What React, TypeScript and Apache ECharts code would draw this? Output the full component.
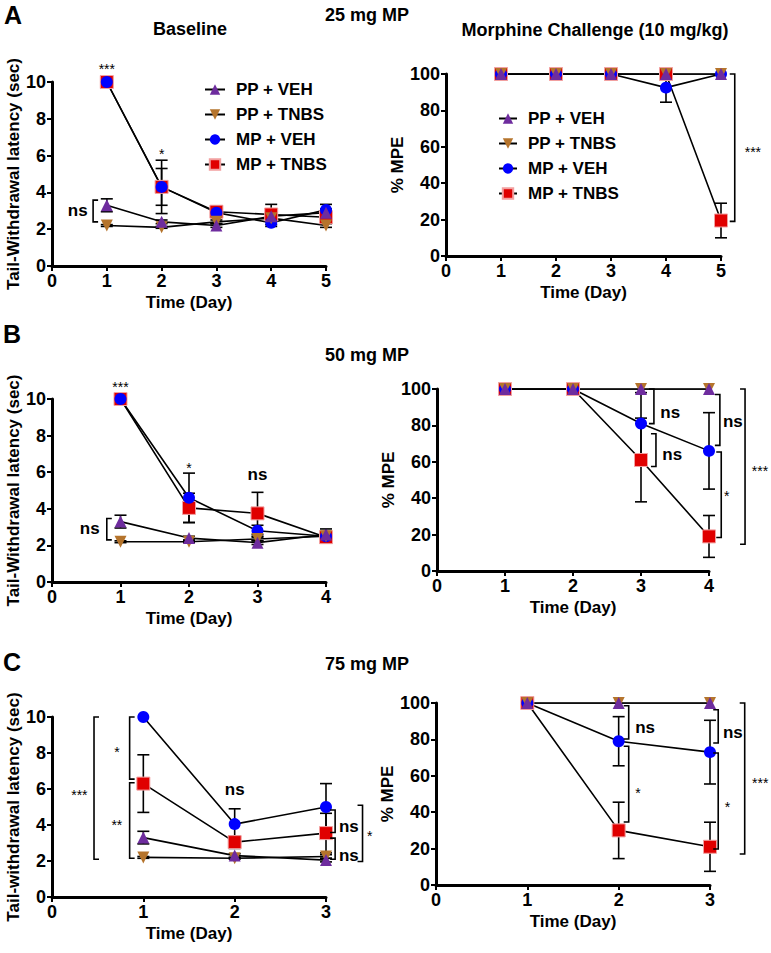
import React, { useEffect, useRef } from 'react';
import * as echarts from 'echarts';

const FONT = 'Arial, "Liberation Sans", Helvetica, sans-serif';
const NAMES = ['PP + VEH', 'PP + TNBS', 'MP + VEH', 'MP + TNBS'];

// ---------- Panel A: 25 mg MP ----------
const aDays = [1, 2, 3, 4, 5];
const aBasePPVEH = [3.3, 2.4, 2.2, 2.7, 2.9];
const aBasePPVEHErr = [0.35, 0.1, 0.1, 0.2, 0.2];
const aBasePPTNBS = [2.2, 2.1, 2.4, 2.6, 2.2];
const aBasePPTNBSErr = [0.05, 0.05, 0.1, 0.1, 0.1];
const aBaseMPVEH = [10, 4.3, 2.9, 2.35, 3.05];
const aBaseMPVEHErr = [0, 1.45, 0.25, 0.2, 0.3];
const aBaseMPTNBS = [10, 4.3, 2.95, 2.8, 2.65];
const aBaseMPTNBSErr = [0, 1.0, 0.3, 0.55, 0.2];
const aBaseBrackets = [[0.75, 3.58, 2.4, 1]];
const aBaseLabels: [number, number, string][] = [[1, 10.95, '***'], [2, 6.3, '*'], [0.47, 3.0, 'ns']];

const aChalPPVEH = [100, 100, 100, 100, 100];
const aChalPPTNBS = [100, 100, 100, 100, 100];
const aChalMPVEH = [100, 100, 100, 92.5, 100];
const aChalMPVEHErr = [0, 0, 0, 8, 0];
const aChalMPTNBS = [100, 100, 100, 100, 19.5];
const aChalMPTNBSErr = [0, 0, 0, 0, 9.5];
const aChalBrackets = [[5.25, 100, 19, -1]];
const aChalLabels: [number, number, string][] = [[5.58, 59.5, '***']];

// ---------- Panel B: 50 mg MP ----------
const bDays = [1, 2, 3, 4];
const bBasePPVEH = [3.3, 2.4, 2.15, 2.6];
const bBasePPVEHErr = [0.35, 0.1, 0.1, 0.3];
const bBasePPTNBS = [2.2, 2.2, 2.35, 2.5];
const bBasePPTNBSErr = [0.05, 0.05, 0.1, 0.1];
const bBaseMPVEH = [10, 4.6, 2.8, 2.5];
const bBaseMPVEHErr = [0, 1.35, 0.3, 0.2];
const bBaseMPTNBS = [10, 4.05, 3.75, 2.45];
const bBaseMPTNBSErr = [0, 0.8, 1.15, 0.3];
const bBaseBrackets = [[0.8, 3.47, 2.3, 1]];
const bBaseLabels: [number, number, string][] = [[1, 10.9, '***'], [2, 6.45, '*'], [3, 5.85, 'ns'], [0.55, 2.93, 'ns']];

const bChalPPVEH = [100, 100, 100, 100];
const bChalPPTNBS = [100, 100, 100, 100];
const bChalMPVEH = [100, 100, 81, 66];
const bChalMPVEHErr = [0, 0, 17, 21];
const bChalMPTNBS = [100, 100, 61, 19];
const bChalMPTNBSErr = [0, 0, 23, 11.5];
const bChalBrackets = [
  [3.19, 100, 81, -1],
  [3.22, 75.4, 57.4, -1],
  [4.16, 97, 69, -1],
  [4.18, 65.4, 18.4, -1],
  [4.53, 100, 14.7, -1],
];
const bChalLabels: [number, number, string][] = [
  [3.43, 87, 'ns'], [3.46, 63.8, 'ns'], [4.35, 82, 'ns'], [4.26, 43.4, '*'], [4.75, 57, '***'],
];

// ---------- Panel C: 75 mg MP ----------
const cDays = [1, 2, 3];
const cBasePPVEH = [3.3, 2.3, 2.05];
const cBasePPVEHErr = [0.35, 0.1, 0.1];
const cBasePPTNBS = [2.2, 2.15, 2.25];
const cBasePPTNBSErr = [0.05, 0.05, 0.1];
const cBaseMPVEH = [10, 4.05, 5.0];
const cBaseMPVEHErr = [0, 0.85, 1.3];
const cBaseMPTNBS = [6.3, 3.05, 3.55];
const cBaseMPTNBSErr = [1.6, 0.35, 1.1];
const cBaseBrackets = [
  [0.46, 10, 2.1, 1],
  [0.85, 10, 6.55, 1],
  [0.85, 6.35, 2.15, 1],
  [3.1, 4.83, 3.58, -1],
  [3.1, 3.27, 2.1, -1],
  [3.4, 5.1, 1.97, -1],
];
const cBaseLabels: [number, number, string][] = [
  [0.3, 5.9, '***'], [0.71, 8.3, '*'], [0.71, 4.25, '**'], [2, 5.95, 'ns'],
  [3.25, 3.9, 'ns'], [3.25, 2.33, 'ns'], [3.48, 3.6, '*'],
];

const cChalPPVEH = [100, 100, 100];
const cChalPPTNBS = [100, 100, 100];
const cChalMPVEH = [100, 79, 73];
const cChalMPVEHErr = [0, 13.5, 17.5];
const cChalMPTNBS = [100, 30, 21];
const cChalMPTNBSErr = [0, 15.5, 13.5];
const cChalBrackets = [
  [2.11, 98.5, 80.2, -1],
  [2.11, 76.2, 34.6, -1],
  [3.09, 96.3, 78, -1],
  [3.09, 72.5, 19.8, -1],
  [3.38, 100, 17, -1],
];
const cChalLabels: [number, number, string][] = [
  [2.29, 86.8, 'ns'], [2.21, 53, '*'], [3.25, 84, 'ns'], [3.19, 45, '*'], [3.55, 58, '***'],
];

const zeros = (n: number) => new Array(n).fill(0);

type Panel = {
  grid: { left: number; top: number; width: number; height: number };
  days: number[];
  yMax: number;
  yInterval: number;
  yName: string;
  yNameGap: number;
  means: number[][];
  errs: number[][];
  brackets: number[][];
  labels: [number, number, string][];
};

const WD_NAME = 'Tail-Withdrawal latency (sec)';
const panels: Panel[] = [
  {
    grid: { left: 52, top: 82, width: 274, height: 184 }, days: aDays, yMax: 10, yInterval: 2,
    yName: WD_NAME, yNameGap: 30,
    means: [aBasePPVEH, aBasePPTNBS, aBaseMPVEH, aBaseMPTNBS],
    errs: [aBasePPVEHErr, aBasePPTNBSErr, aBaseMPVEHErr, aBaseMPTNBSErr],
    brackets: aBaseBrackets, labels: aBaseLabels,
  },
  {
    grid: { left: 446, top: 74, width: 275, height: 182 }, days: aDays, yMax: 100, yInterval: 20,
    yName: '% MPE', yNameGap: 39,
    means: [aChalPPVEH, aChalPPTNBS, aChalMPVEH, aChalMPTNBS],
    errs: [zeros(5), zeros(5), aChalMPVEHErr, aChalMPTNBSErr],
    brackets: aChalBrackets, labels: aChalLabels,
  },
  {
    grid: { left: 52, top: 399, width: 274, height: 183 }, days: bDays, yMax: 10, yInterval: 2,
    yName: WD_NAME, yNameGap: 30,
    means: [bBasePPVEH, bBasePPTNBS, bBaseMPVEH, bBaseMPTNBS],
    errs: [bBasePPVEHErr, bBasePPTNBSErr, bBaseMPVEHErr, bBaseMPTNBSErr],
    brackets: bBaseBrackets, labels: bBaseLabels,
  },
  {
    grid: { left: 437, top: 389, width: 272, height: 182 }, days: bDays, yMax: 100, yInterval: 20,
    yName: '% MPE', yNameGap: 39,
    means: [bChalPPVEH, bChalPPTNBS, bChalMPVEH, bChalMPTNBS],
    errs: [zeros(4), zeros(4), bChalMPVEHErr, bChalMPTNBSErr],
    brackets: bChalBrackets, labels: bChalLabels,
  },
  {
    grid: { left: 52, top: 717, width: 274, height: 180 }, days: cDays, yMax: 10, yInterval: 2,
    yName: 'Tail-withdrawal latency (sec)', yNameGap: 30,
    means: [cBasePPVEH, cBasePPTNBS, cBaseMPVEH, cBaseMPTNBS],
    errs: [cBasePPVEHErr, cBasePPTNBSErr, cBaseMPVEHErr, cBaseMPTNBSErr],
    brackets: cBaseBrackets, labels: cBaseLabels,
  },
  {
    grid: { left: 436, top: 703, width: 274, height: 182 }, days: cDays, yMax: 100, yInterval: 20,
    yName: '% MPE', yNameGap: 39,
    means: [cChalPPVEH, cChalPPTNBS, cChalMPVEH, cChalMPTNBS],
    errs: [zeros(3), zeros(3), cChalMPVEHErr, cChalMPTNBSErr],
    brackets: cChalBrackets, labels: cChalLabels,
  },
];

const SYMBOLS = [
  { symbol: 'triangle', symbolSize: 12, symbolRotate: 0, itemStyle: { color: '#6E2C9E' } },
  { symbol: 'triangle', symbolSize: 12, symbolRotate: 180, itemStyle: { color: '#B5742C' } },
  { symbol: 'circle', symbolSize: 12, symbolRotate: 0, itemStyle: { color: '#0000FF' } },
  { symbol: 'rect', symbolSize: 13, symbolRotate: 0, itemStyle: { color: '#E00000', borderColor: '#F2A0A0', borderWidth: 1 } },
];

function buildOption() {
  const grid: any[] = [];
  const xAxis: any[] = [];
  const yAxis: any[] = [];
  const series: any[] = [];
  const axisLabel = { fontFamily: FONT, fontWeight: 'bold', fontSize: 18, color: '#000', margin: 6 };
  const nameStyle = { fontFamily: FONT, fontWeight: 'bold', fontSize: 17, color: '#000' };
  const axisLine = { show: true, onZero: false, lineStyle: { color: '#000', width: 3 } };
  const axisTick = { show: true, length: 5, lineStyle: { color: '#000', width: 2 } };

  panels.forEach((p, i) => {
    grid.push({ ...p.grid });
    xAxis.push({
      type: 'value', gridIndex: i, min: 0, max: p.days.length, interval: 1,
      name: 'Time (Day)', nameLocation: 'middle', nameGap: 28, nameTextStyle: nameStyle,
      axisLine, axisTick, axisLabel, splitLine: { show: false },
    });
    yAxis.push({
      type: 'value', gridIndex: i, min: 0, max: p.yMax, interval: p.yInterval,
      name: p.yName, nameLocation: 'middle', nameGap: p.yNameGap, nameTextStyle: nameStyle,
      axisLine, axisTick, axisLabel, splitLine: { show: false },
    });

    // error bars (drawn beneath markers)
    const errRows: number[][] = [];
    p.means.forEach((m, k) => {
      m.forEach((v, j) => {
        const e = p.errs[k][j];
        if (e > 0) errRows.push([p.days[j], v - e, v + e]);
      });
    });
    series.push({
      type: 'custom', xAxisIndex: i, yAxisIndex: i, data: errRows, z: 1, silent: true, clip: false,
      renderItem: (_params: any, api: any) => {
        const x = api.value(0);
        const lo = api.coord([x, api.value(1)]);
        const hi = api.coord([x, api.value(2)]);
        const st = { stroke: '#000', lineWidth: 1.6 };
        const cap = 6;
        return {
          type: 'group',
          children: [
            { type: 'line', shape: { x1: lo[0], y1: lo[1], x2: hi[0], y2: hi[1] }, style: st },
            { type: 'line', shape: { x1: hi[0] - cap, y1: hi[1], x2: hi[0] + cap, y2: hi[1] }, style: st },
            { type: 'line', shape: { x1: lo[0] - cap, y1: lo[1], x2: lo[0] + cap, y2: lo[1] }, style: st },
          ],
        };
      },
    });

    // line series: draw MP+TNBS first, PP+VEH last (on top)
    [3, 2, 1, 0].forEach((k) => {
      series.push({
        type: 'line', name: NAMES[k], xAxisIndex: i, yAxisIndex: i,
        data: p.days.map((d, j) => [d, p.means[k][j]]),
        ...SYMBOLS[k],
        showSymbol: true,
        lineStyle: { color: '#000', width: 1.6 },
        z: 3,
        emphasis: { disabled: true },
      });
    });

    // brackets
    series.push({
      type: 'custom', xAxisIndex: i, yAxisIndex: i, data: p.brackets, z: 4, silent: true, clip: false,
      renderItem: (_params: any, api: any) => {
        const x = api.value(0);
        const a = api.coord([x, api.value(1)]);
        const b = api.coord([x, api.value(2)]);
        const dir = api.value(3);
        const t = 5;
        return {
          type: 'polyline',
          shape: { points: [[a[0] + dir * t, a[1]], a, b, [b[0] + dir * t, b[1]]] },
          style: { stroke: '#000', lineWidth: 1.6, fill: 'none' },
        };
      },
    });

    // significance labels
    series.push({
      type: 'custom', xAxisIndex: i, yAxisIndex: i,
      data: p.labels.map((l) => [l[0], l[1]]), z: 5, silent: true, clip: false,
      renderItem: (params: any, api: any) => {
        const pt = api.coord([api.value(0), api.value(1)]);
        const txt = p.labels[params.dataIndex][2];
        const star = txt.indexOf('*') >= 0;
        return {
          type: 'text', x: pt[0], y: pt[1] + (star ? 4 : 0),
          style: {
            text: txt, fill: '#000', fontFamily: FONT,
            fontSize: star ? 14 : 17, fontWeight: star ? 'normal' : 'bold',
            align: 'center', verticalAlign: 'middle',
          },
        };
      },
    });
  });

  const legendBase = {
    data: NAMES, orient: 'vertical', itemHeight: 13, itemGap: 8,
    selectedMode: false,
    textStyle: { fontFamily: FONT, fontWeight: 'bold', fontSize: 17, color: '#000', padding: [0, 0, 0, 6] },
  };

  const titleText = (x: number, y: number, text: string, size: number, align = 'center') => ({
    type: 'text', x, y,
    style: { text, fill: '#000', fontFamily: FONT, fontWeight: 'bold', fontSize: size, align, verticalAlign: 'middle' },
  });

  return {
    animation: false,
    backgroundColor: '#fff',
    grid, xAxis, yAxis, series,
    legend: [
      { ...legendBase, itemWidth: 20, left: 199, top: 76 },
      { ...legendBase, itemWidth: 18, left: 493, top: 105 },
    ],
    graphic: [
      titleText(4, 15, 'A', 25, 'left'),
      titleText(367, 15, '25 mg MP', 18),
      titleText(190, 29, 'Baseline', 18),
      titleText(595, 30, 'Morphine Challenge (10 mg/kg)', 18),
      titleText(3, 334, 'B', 25, 'left'),
      titleText(367, 355, '50 mg MP', 18),
      titleText(3, 662, 'C', 25, 'left'),
      titleText(367, 664, '75 mg MP', 18),
    ],
  };
}

export default function App() {
  const ref = useRef<HTMLDivElement>(null);
  useEffect(() => {
    if (!ref.current) return;
    const chart = echarts.init(ref.current, undefined, { renderer: 'svg' });
    chart.setOption(buildOption() as any);
    return () => chart.dispose();
  }, []);
  return (
    <div
      ref={ref}
      style={{ position: 'absolute', left: 0, top: 0, width: 771, height: 953, background: '#fff' }}
    />
  );
}
